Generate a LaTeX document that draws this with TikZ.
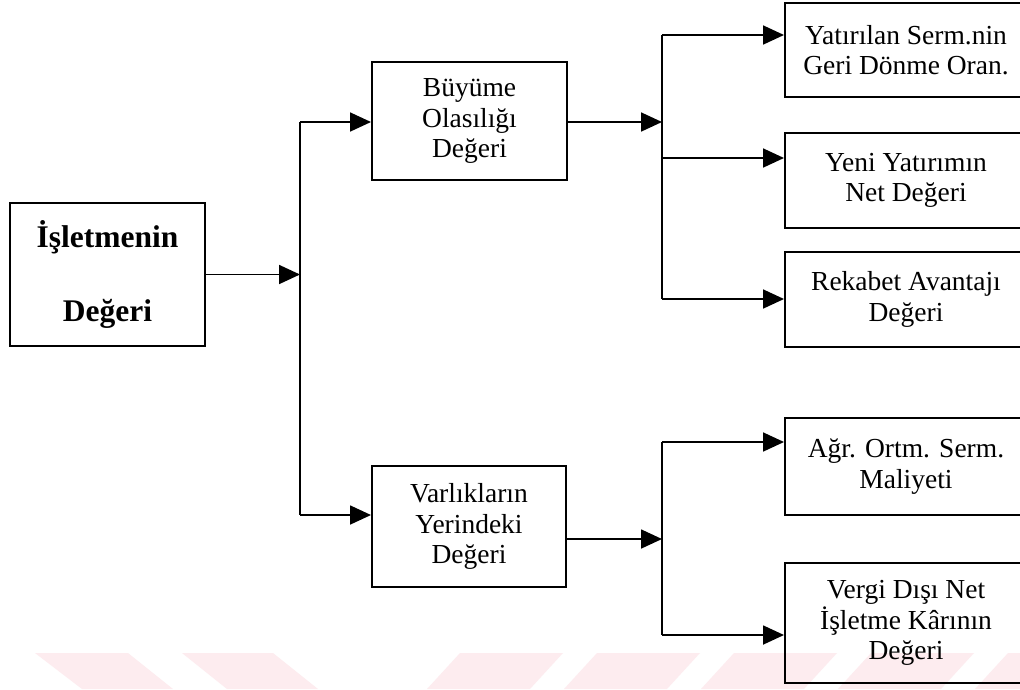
\documentclass[tikz,border=0pt]{standalone}
\usepackage{fontspec}
\setmainfont{Liberation Serif}
\usetikzlibrary{arrows.meta}
\definecolor{wmpink}{RGB}{253,236,239}
\tikzset{
  box/.style={draw=black, line width=2pt, inner sep=0pt, align=center,
    font=\fontsize{27.5}{30.5}\selectfont},
  mainbox/.style={box, font=\fontsize{31.5}{74}\selectfont\bfseries},
  conn/.style={draw=black, line width=1.8pt},
  arr/.style={conn, -{Triangle[length=21pt,width=19pt]}},
  wm/.style={fill=wmpink, draw=none}
}
\begin{document}
\begin{tikzpicture}[x=1pt,y=-1pt]
\useasboundingbox (0,0) rectangle (1020,689);
\clip (0,0) rectangle (1020,689);
\fill[white] (0,0) rectangle (1020,689);
% watermark stripes
\fill[wm] (35,653) -- (128,653) -- (173,689) -- (82,689) -- cycle;
\fill[wm] (182,653) -- (273,653) -- (318,689) -- (227,689) -- cycle;
\fill[wm] (460,653) -- (563,653) -- (530,689) -- (427,689) -- cycle;
\fill[wm] (597,653) -- (700,653) -- (667,689) -- (564,689) -- cycle;
\fill[wm] (734,653) -- (837,653) -- (804,689) -- (701,689) -- cycle;
\fill[wm] (871,653) -- (974,653) -- (941,689) -- (838,689) -- cycle;
\fill[wm] (1008,653) -- (1111,653) -- (1078,689) -- (975,689) -- cycle;
% boxes
\node[mainbox, minimum width=195pt, minimum height=143pt] (main) at (107.5,274.5) {İşletmenin\\Değeri};
\node[box, minimum width=195pt, minimum height=118pt] (bu) at (469.5,121) {Büyüme\\Olasılığı\\Değeri};
\node[box, minimum width=194pt, minimum height=121pt] (va) at (469,526.5) {Varlıkların\\Yerindeki\\Değeri};
\node[box, minimum width=242pt, minimum height=94pt] (ya) at (906,50) {Yatırılan Serm.nin\\Geri Dönme Oran.};
\node[box, minimum width=242pt, minimum height=95pt] (ye) at (906,180.5) {Yeni Yatırımın\\Net Değeri};
\node[box, minimum width=242pt, minimum height=95pt] (re) at (906,299.5) {Rekabet Avantajı\\Değeri};
\node[box, minimum width=242pt, minimum height=97pt] (ag) at (906,466.5) {Ağr. Ortm. Serm.\\Maliyeti};
\node[box, minimum width=242pt, minimum height=120pt] (ve) at (906,623) {Vergi Dışı Net\\İşletme Kârının\\Değeri};
% junction coordinates
\coordinate (a1) at (300,122);
\coordinate (a2) at (300,515);
\coordinate (b1) at (662,35);
\coordinate (b2) at (662,158);
\coordinate (b3) at (662,299);
\coordinate (bin) at (662,122);
\coordinate (c1) at (662,442);
\coordinate (c2) at (662,635);
\coordinate (cin) at (662,539);
% connectors
\draw[conn] (a1) -- (a2);
\draw[arr] (main.east) -- (main.east -| a1);
\draw[arr] (a1) -- (a1 -| bu.west);
\draw[arr] (a2) -- (a2 -| va.west);
\draw[conn] (b1) -- (b3);
\draw[arr] (bin -| bu.east) -- (bin);
\draw[arr] (b1) -- (b1 -| ya.west);
\draw[arr] (b2) -- (b2 -| ye.west);
\draw[arr] (b3) -- (b3 -| re.west);
\draw[conn] (c1) -- (c2);
\draw[arr] (cin -| va.east) -- (cin);
\draw[arr] (c1) -- (c1 -| ag.west);
\draw[arr] (c2) -- (c2 -| ve.west);
\end{tikzpicture}
\end{document}
